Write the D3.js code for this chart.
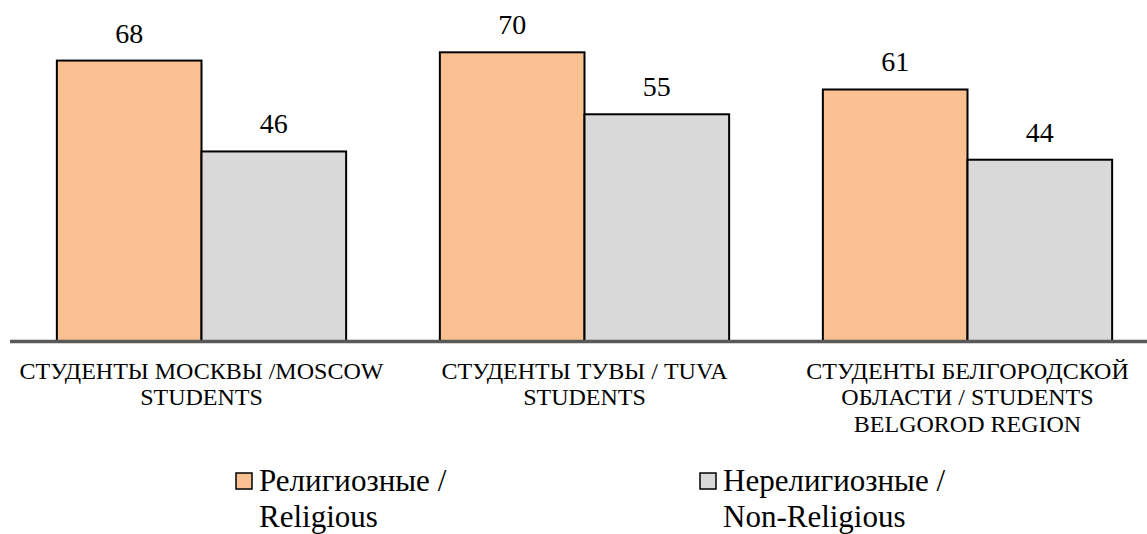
<!DOCTYPE html>
<html>
<head>
<meta charset="utf-8">
<script src="https://cdn.jsdelivr.net/npm/d3@7/dist/d3.min.js"></script>
</head>
<body style="margin:0; background:#fff">
<svg id="chart" width="1147" height="534"></svg>
<script>
// data
const categories = [
  ["СТУДЕНТЫ МОСКВЫ /MOSCOW", "STUDENTS"],
  ["СТУДЕНТЫ ТУВЫ / TUVA", "STUDENTS"],
  ["СТУДЕНТЫ БЕЛГОРОДСКОЙ", "ОБЛАСТИ / STUDENTS", "BELGOROD REGION"]
];
const seriesNames = [["Религиозные /", "Religious"], ["Нерелигиозные /", "Non-Religious"]];
const religious = [68, 70, 61];
const nonReligious = [46, 55, 44];
const colors = ["#f9c191", "#d9d9d9"];
const fontFam = "Liberation Serif";

const svg = d3.select("#chart");
const baseY = 341.5;

const x0 = d3.scaleBand().domain(d3.range(categories.length)).range([10, 1159]).padding(0);
const x1 = d3.scaleBand().domain([0, 1]).range([0, x0.bandwidth()]).paddingInner(0).paddingOuter(0.324);
const y = d3.scaleLinear().domain([0, 80]).range([baseY, 11]);

const series = [religious, nonReligious];

// bars + value labels
series.forEach((vals, s) => {
  svg.selectAll(".bar" + s)
    .data(vals)
    .enter()
    .append("rect")
    .attr("x", (d, i) => x0(i) + x1(s))
    .attr("y", d => y(d))
    .attr("width", x1.bandwidth())
    .attr("height", d => baseY - y(d))
    .attr("fill", colors[s])
    .attr("stroke", "#000")
    .attr("stroke-width", 2);

  svg.selectAll(".lbl" + s)
    .data(vals)
    .enter()
    .append("text")
    .attr("font-family", fontFam)
    .attr("x", (d, i) => x0(i) + x1(s) + x1.bandwidth() / 2)
    .attr("y", d => y(d) - 18)
    .attr("text-anchor", "middle")
    .attr("font-size", 28)
    .text(d => d);
});

// baseline
svg.append("line")
  .attr("x1", 10).attr("x2", 1147)
  .attr("y1", baseY).attr("y2", baseY)
  .attr("stroke", "#595959")
  .attr("stroke-width", 3.5);

// category labels
const cat = svg.selectAll(".cat")
  .data(categories)
  .enter()
  .append("text")
  .attr("font-family", fontFam)
  .attr("text-anchor", "middle")
  .attr("font-size", 24);
cat.selectAll("tspan")
  .data((d, i) => d.map(t => ({ t, i })))
  .enter()
  .append("tspan")
  .attr("x", d => x0(d.i) + x0.bandwidth() / 2)
  .attr("y", (d, j) => 378.5 + j * 26.5)
  .text(d => d.t);

// legend
const legX = [236, 700];
seriesNames.forEach((lines, s) => {
  const g = svg.append("g").attr("transform", `translate(${legX[s]},0)`);
  g.append("rect")
    .attr("x", 0).attr("y", 473)
    .attr("width", 16).attr("height", 16)
    .attr("fill", colors[s])
    .attr("stroke", "#000")
    .attr("stroke-width", 1.5);
  const t = g.append("text").attr("font-family", fontFam).attr("font-size", 31);
  lines.forEach((line, j) => {
    t.append("tspan")
      .attr("x", 23)
      .attr("y", 490.5 + j * 36)
      .text(line);
  });
});
</script>
</body>
</html>
